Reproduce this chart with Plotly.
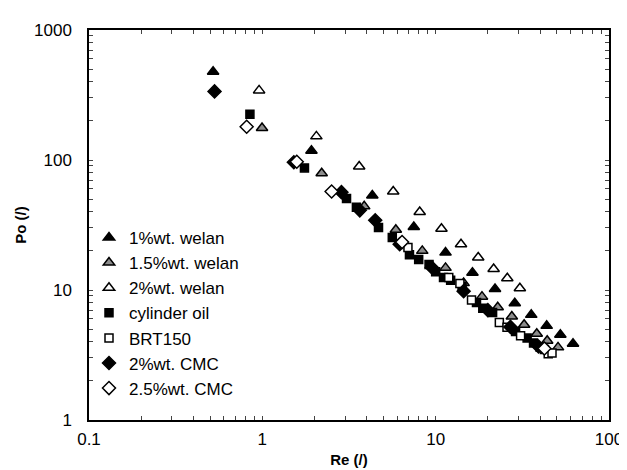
import plotly.graph_objects as go

# ---- data ----
welan1_re = [0.52, 1.92, 4.31, 7.48, 11.4, 16.3, 22.0, 28.6, 35.6, 43.7, 52.4, 62.0]
welan1_po = [477, 118, 53.4, 30.5, 19.4, 13.6, 10.2, 7.9, 6.44, 5.3, 4.53, 3.86]

welan15_re = [0.996, 2.2, 3.87, 5.89, 8.37, 11.4, 14.5, 18.5, 22.8, 27.5, 32.4, 38.3, 44.0, 50.8]
welan15_po = [176, 79, 44, 29.1, 20.0, 14.8, 11.3, 8.89, 7.36, 6.25, 5.4, 4.61, 4.07, 3.62]

welan2_re = [0.958, 2.05, 3.62, 5.69, 8.09, 10.8, 14.0, 17.6, 21.6, 25.9, 30.6]
welan2_po = [343, 152, 89, 57.3, 39.8, 29.6, 22.5, 17.8, 14.5, 12.3, 10.3]

cyl_re = [0.848, 1.75, 3.06, 3.49, 4.68, 5.62, 7.06, 7.98, 9.16, 10.0, 11.1, 12.2,
          14.2, 17.2, 18.7, 21.3, 28.9, 33.7, 36.7, 42.4]
cyl_po = [225, 86.9, 50.6, 43.4, 30.2, 25.3, 18.7, 17.2, 15.7, 13.8, 12.5, 11.9,
          10.6, 8.0, 7.24, 6.71, 4.8, 4.27, 3.91, 3.48]

brt_re = [6.92, 11.9, 13.8, 16.1, 23.3, 25.8, 30.9, 40.1, 44.6, 46.9]
brt_po = [21.2, 12.5, 11.2, 8.39, 5.62, 5.18, 4.45, 3.62, 3.24, 3.27]

cmc2_re = [0.53, 1.52, 2.86, 3.65, 4.48, 6.2, 9.5, 14.5, 20.0, 27.0, 39.2]
cmc2_po = [337, 96, 56.6, 41, 34.4, 22.5, 14.9, 9.8, 7.0, 5.2, 3.68]

cmc25_re = [0.812, 1.58, 2.51, 6.4, 42.4]
cmc25_po = [180, 97, 57.3, 23.4, 3.55]

x_tick_labels = ["0.1", "1", "10", "100"]
y_tick_labels = ["1", "10", "100", "1000"]

series = [
    ("1%wt. welan", welan1_re, welan1_po, "triangle-up", "black", 10),
    ("1.5%wt. welan", welan15_re, welan15_po, "triangle-up", "#8c8c8c", 10),
    ("2%wt. welan", welan2_re, welan2_po, "triangle-up", "white", 10),
    ("cylinder oil", cyl_re, cyl_po, "square", "black", 8),
    ("BRT150", brt_re, brt_po, "square", "white", 8),
    ("2%wt. CMC", cmc2_re, cmc2_po, "diamond", "black", 10),
    ("2.5%wt. CMC", cmc25_re, cmc25_po, "diamond", "white", 10),
]

FONT = "Liberation Sans, Arial, sans-serif"

fig = go.Figure()
for name, xs, ys, sym, fill, size in series:
    fig.add_trace(go.Scatter(
        x=xs, y=ys, mode="markers", name=name,
        marker=dict(symbol=sym, size=size, color=fill,
                    line=dict(color="black", width=1.5)),
    ))

def log_ticks(labels):
    vals, texts = [], []
    decades = [float(t) for t in labels]
    for j, d in enumerate(decades):
        vals.append(d)
        texts.append(labels[j])
        if j < len(decades) - 1:
            for k in range(2, 10):
                vals.append(d * k)
                texts.append("")
    return vals, texts

xv, xt = log_ticks(x_tick_labels)
yv, yt = log_ticks(y_tick_labels)

axis_common = dict(
    type="log", showgrid=False, zeroline=False,
    showline=True, linecolor="black", linewidth=1.5, mirror="ticks",
    ticks="inside", ticklen=4, tickcolor="#444", tickwidth=1,
    tickfont=dict(family=FONT, size=17, color="black"),
)

fig.update_xaxes(range=[-1, 2], tickvals=xv, ticktext=xt, ticklabelstandoff=3,
                 title=dict(text="<b>Re (/)</b>", standoff=6,
                            font=dict(family=FONT, size=15, color="black")),
                 **axis_common)
fig.update_yaxes(range=[0, 3], tickvals=yv, ticktext=yt, ticklabelstandoff=12,
                 title=dict(text="<b>Po (/)</b>", standoff=4,
                            font=dict(family=FONT, size=15, color="black")),
                 **axis_common)

fig.update_layout(
    width=627, height=470,
    margin=dict(l=81, r=15, t=22, b=56),
    paper_bgcolor="white", plot_bgcolor="white",
    font=dict(family=FONT, size=17, color="black"),
    legend=dict(x=0.0, y=0.513, xanchor="left", yanchor="top",
                bgcolor="rgba(0,0,0,0)", borderwidth=0,
                font=dict(size=17), itemwidth=30),
    showlegend=True,
)

fig.write_html("out.html")
